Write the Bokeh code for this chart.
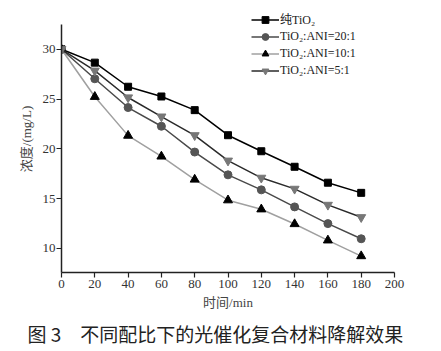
from bokeh.plotting import figure
from bokeh.models import Range1d, Legend, Title
from bokeh.embed import file_html
from bokeh.resources import INLINE

time_min = [0, 20, 40, 60, 80, 100, 120, 140, 160, 180]
pure_tio2 = [30.0, 28.66, 26.24, 25.26, 23.89, 21.37, 19.76, 18.2, 16.6, 15.58]
ratio_20_1 = [30.0, 27.04, 24.15, 22.27, 19.68, 17.39, 15.88, 14.17, 12.49, 10.97]
ratio_10_1 = [30.0, 25.23, 21.33, 19.24, 16.92, 14.84, 13.93, 12.45, 10.81, 9.23]
ratio_5_1 = [30.0, 27.85, 25.16, 23.24, 21.36, 18.81, 17.09, 15.98, 14.37, 13.13]

series_labels = ["纯TiO₂", "TiO₂:ANI=20:1", "TiO₂:ANI=10:1", "TiO₂:ANI=5:1"]
x_ticks = [0, 20, 40, 60, 80, 100, 120, 140, 160, 180, 200]
y_ticks = [10, 15, 20, 25, 30]
x_label = "时间/min"
y_label = "浓度/(mg/L)"
caption = "图 3\u3000不同配比下的光催化复合材料降解效果"

SERIF = "Liberation Serif, Noto Sans CJK SC"
CJK = "Noto Sans CJK SC"

p = figure(width=441, height=351, output_backend="svg", toolbar_location=None,
           x_range=Range1d(0, 200), y_range=Range1d(7.58, 34.40),
           min_border_left=61, min_border_right=47, min_border_top=5,
           min_border_bottom=5)
p.outline_line_color = None
p.grid.grid_line_color = None
p.background_fill_color = "white"
p.border_fill_color = "white"

styles = [
    (pure_tio2, "square", "black", "black", 7),
    (ratio_20_1, "circle", "#555555", "#4a4a4a", 8),
    (ratio_10_1, "triangle", "black", "#a0a0a0", 9),
    (ratio_5_1, "inverted_triangle", "#777777", "#2a2a2a", 9),
]
items = []
for (vals, marker, mcol, lcol, size), lab in zip(styles, series_labels):
    r1 = p.line(time_min, vals, line_color=lcol, line_width=1.5)
    r2 = p.scatter(time_min, vals, marker=marker, size=size, fill_color=mcol,
                   line_color=mcol)
    items.append((lab, [r1, r2]))

legend = Legend(items=items, location=(190, 193))
legend.background_fill_alpha = 0
legend.border_line_color = None
legend.padding = 0
legend.margin = 0
legend.spacing = 0
legend.glyph_width = 28
legend.glyph_height = 17
legend.label_height = 17
legend.label_standoff = 1
legend.label_text_font = SERIF
legend.label_text_font_size = "12px"
legend.label_text_color = "#222222"
p.add_layout(legend, "center")

for ax in (p.xaxis[0], p.yaxis[0]):
    ax.axis_line_width = 1.5
    ax.axis_line_color = "#222222"
    ax.major_tick_line_color = "#222222"
    ax.minor_tick_line_color = "#222222"
    ax.major_tick_line_width = 1.2
    ax.minor_tick_line_width = 1.2
    ax.major_tick_out = 5
    ax.major_tick_in = 0
    ax.minor_tick_out = 3
    ax.minor_tick_in = 0
    ax.major_label_text_font = SERIF
    ax.major_label_text_font_size = "13px"
    ax.major_label_text_color = "#333333"
    ax.axis_label_text_font = SERIF
    ax.axis_label_text_font_size = "13px"
    ax.axis_label_text_font_style = "normal"
    ax.axis_label_text_color = "#444444"

p.xaxis.ticker = x_ticks
p.xaxis.ticker.num_minor_ticks = 2
p.xaxis.major_label_standoff = 2
p.xaxis.axis_label = x_label
p.xaxis.axis_label_standoff = 4

p.yaxis.ticker = y_ticks
p.yaxis.ticker.num_minor_ticks = 2
p.yaxis.bounds = (7.58, 32.49)
p.yaxis.major_label_standoff = 1
p.yaxis.axis_label = y_label
p.yaxis.axis_label_standoff = 6

p.add_layout(Title(text=caption, align="left", offset=-34, standoff=10,
                   text_font=CJK, text_font_size="19px",
                   text_font_style="normal", text_color="#222222"), "below")

open("out.html", "w").write(file_html(p, INLINE))
